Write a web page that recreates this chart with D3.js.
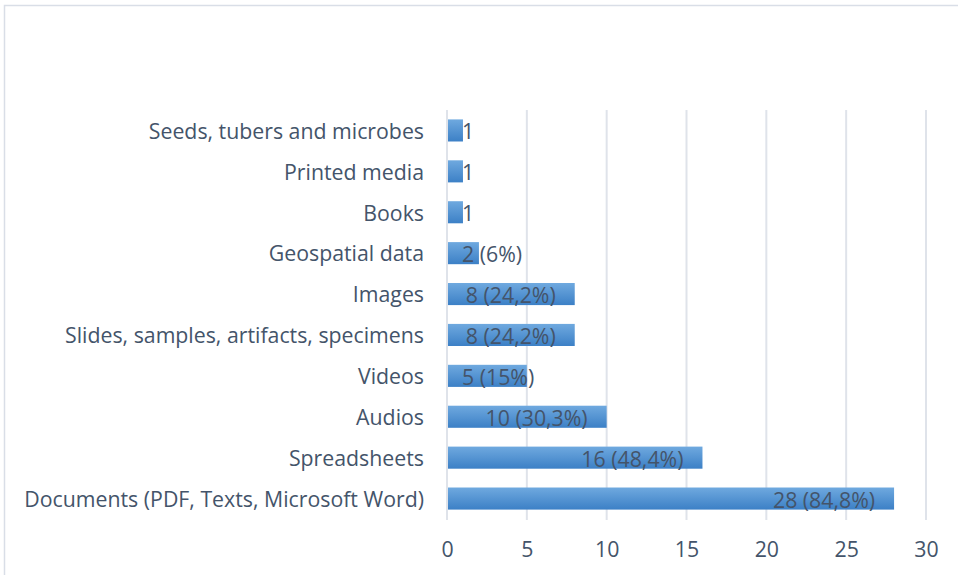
<!DOCTYPE html>
<html>
<head>
<meta charset="utf-8">
<script src="https://cdn.jsdelivr.net/npm/d3@7"></script>
<style>
  body { margin: 0; background: #fff; }
  svg text { font-family: "Open Sans", sans-serif; }
</style>
</head>
<body>
<svg id="chart" width="958" height="575"></svg>
<script>
// Resource types held (count and share of respondents)
const categories = [
  "Seeds, tubers and microbes",
  "Printed media",
  "Books",
  "Geospatial data",
  "Images",
  "Slides, samples, artifacts, specimens",
  "Videos",
  "Audios",
  "Spreadsheets",
  "Documents (PDF, Texts, Microsoft Word)"
];
const counts = [1, 1, 1, 2, 8, 8, 5, 10, 16, 28];
const shares = [null, null, null, "6%", "24,2%", "24,2%", "15%", "30,3%", "48,4%", "84,8%"];
const xTicks = [0, 5, 10, 15, 20, 25, 30];

const svg = d3.select("#chart");
const textColor = "#44546a";
const fontSize = 21.3;

// chart frame
svg.append("path")
  .attr("d", "M4.5,580 V5.5 H960")
  .attr("fill", "none")
  .attr("stroke", "#d9dee7")
  .attr("stroke-width", 1.5);

const defs = svg.append("defs");
const grad = defs.append("linearGradient")
  .attr("id", "barFill").attr("x1", 0).attr("y1", 0).attr("x2", 0).attr("y2", 1);
grad.append("stop").attr("offset", "0%").attr("stop-color", "#6fa9df");
grad.append("stop").attr("offset", "100%").attr("stop-color", "#3c80c6");

const x = d3.scaleLinear().domain([0, 30]).range([447, 926]);
const y = d3.scaleBand().domain(categories).range([110, 519]).paddingInner(0.46).paddingOuter(0.23);

// vertical gridlines
svg.append("g")
  .selectAll("line")
  .data(xTicks)
  .join("line")
  .attr("x1", d => x(d)).attr("x2", d => x(d))
  .attr("y1", 110).attr("y2", 520)
  .attr("stroke", "#dfe3ea")
  .attr("stroke-width", 2);

// x axis labels
const xAxis = d3.axisBottom(x).tickValues(xTicks).tickSize(0).tickPadding(0);
const gx = svg.append("g").attr("transform", "translate(0,542)").call(xAxis);
gx.select(".domain").remove();
gx.selectAll("text")
  .attr("fill", textColor)
  .attr("font-size", fontSize)
  .attr("dy", "0.71em")
  .style("font-family", "'Open Sans', sans-serif");

// category labels
const yAxis = d3.axisLeft(y).tickSize(0).tickPadding(0);
const gy = svg.append("g").attr("transform", "translate(424,1.5)").call(yAxis);
gy.select(".domain").remove();
gy.selectAll("text")
  .attr("fill", textColor)
  .attr("font-size", fontSize)
  .style("font-family", "'Open Sans', sans-serif");

// bars
svg.append("g")
  .selectAll("rect")
  .data(categories)
  .join("rect")
  .attr("x", x(0) + 1)
  .attr("y", d => y(d))
  .attr("width", (d, i) => x(counts[i]) - x(0) - 1)
  .attr("height", y.bandwidth())
  .attr("fill", "url(#barFill)");

// value labels
const labels = svg.append("g")
  .selectAll("text")
  .data(categories)
  .join("text")
  .attr("y", d => y(d) + y.bandwidth() / 2 + 1.5)
  .attr("dy", "0.35em")
  .attr("fill", textColor)
  .attr("font-size", fontSize)
  .text((d, i) => shares[i] ? `${counts[i]} (${shares[i]})` : `${counts[i]}`);

labels.each(function(d, i) {
  const w = this.getComputedTextLength();
  const end = x(counts[i]) - 19;
  const start = Math.max(x(0) + 15, end - w);
  d3.select(this).attr("x", start);
});
</script>
</body>
</html>
